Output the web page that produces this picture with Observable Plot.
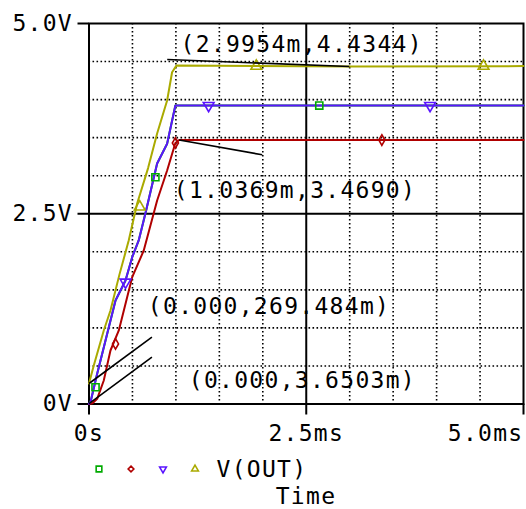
<!DOCTYPE html>
<html><head><meta charset="utf-8">
<script src="https://cdn.jsdelivr.net/npm/d3@7"></script>
<script src="https://cdn.jsdelivr.net/npm/@observablehq/plot@0.6"></script>
<style>
body{margin:0;background:#fff;width:526px;height:509px;overflow:hidden;position:relative;font-family:"DejaVu Sans Mono",monospace;}
#chart svg text{letter-spacing:1.3px}
#legend{position:absolute;left:0;top:455px;}
#xlabel{position:absolute;left:226px;width:160px;text-align:center;top:483px;font-size:23px;letter-spacing:1.3px;line-height:26px;}
</style></head><body>
<div id="chart"></div>
<svg id="legend" width="526" height="28"></svg>
<div id="xlabel">Time</div>
<script>
// ---- data (time in ms, voltage in V) ----
const seriesNames = ["green", "red", "blue", "olive"];
const seriesColors = ["#00aa00", "#b00000", "#5a14ff", "#aaaa00"];
const seriesSymbols = ["square", "diamond", "triangle", "triangle"];
const seriesRotate = [0, 0, 180, 0];
const seriesR = [4, 3.2, 4, 4];

const blueT = [0, 0.017, 0.094, 0.19, 0.305, 0.42, 0.497, 0.572, 0.649, 0.784, 0.899, 0.994, 5.0];
const blueV = [0.00365, 0.024, 0.397, 0.834, 1.36, 1.623, 1.929, 2.149, 2.503, 3.16, 3.42, 3.922, 3.922];
const greenT = blueT.slice();
const greenV = blueV.slice();
const redT = [0, 0.04, 0.094, 0.17, 0.247, 0.343, 0.439, 0.497, 0.63, 0.784, 0.899, 0.994, 1.0369, 5.0];
const redV = [0, 0.01, 0.068, 0.309, 0.703, 0.966, 1.403, 1.666, 2.017, 2.674, 3.068, 3.43, 3.469, 3.469];
const oliveT = [0, 0.055, 0.17, 0.247, 0.35, 0.457, 0.554, 0.68, 0.784, 0.899, 0.956, 1.006, 2.9954, 5.0];
const oliveV = [0.2695, 0.506, 0.966, 1.229, 1.70, 2.148, 2.635, 3.1, 3.554, 3.988, 4.36, 4.447, 4.4344, 4.44];

const markerT = [[0.075, 0.764, 2.65], [0.305, 0.994, 3.37], [0.42, 1.377, 3.925], [0.584, 1.925, 4.54]];
const markerV = [[0.22, 2.98, 3.922], [0.79, 3.43, 3.469], [1.6, 3.922, 3.922], [2.59, 4.44, 4.44]];

const yTicks = [0, 2.5, 5];
const yTickLabels = ["0V", "2.5V", "5.0V"];
const xTicks = [0, 2.5, 5];
const xTickLabels = ["0s", "2.5ms", "5.0ms"];
const gridVals = [0.5, 1, 1.5, 2, 3, 3.5, 4, 4.5];

const annText = ["(2.9954m,4.4344)", "(1.0369m,3.4690)", "(0.000,269.484m)", "(0.000,3.6503m)"];
const annTextX = [1.053, 0.976, 0.677, 1.148];
const annTextY = [4.721, 2.80, 1.284, 0.309];
const annPointX = [2.9954, 1.0369, 0, 0];
const annPointY = [4.4344, 3.469, 0.2695, 0.00365];
const annLeaderX = [0.900, 1.993, 0.724, 0.724];
const annLeaderY = [4.527, 3.275, 0.878, 0.615];

const legendLabel = "V(OUT)";

// ---- build tables ----
const allT = [greenT, redT, blueT, oliveT];
const allV = [greenV, redV, blueV, oliveV];
const lineData = [];
allT.forEach((ts, i) => ts.forEach((t, j) => lineData.push({s: i, t, v: allV[i][j]})));
const markData = [];
markerT.forEach((ts, i) => ts.forEach((t, j) => markData.push({s: i, t, v: markerV[i][j]})));
const ann = annText.map((text, i) => ({text, tx: annTextX[i], ty: annTextY[i], px: annPointX[i], py: annPointY[i], lx: annLeaderX[i], ly: annLeaderY[i]}));

const fmtY = d => yTickLabels[yTicks.indexOf(d)];
const fmtX = d => xTickLabels[xTicks.indexOf(d)];

const marks = [
  Plot.ruleX(gridVals, {stroke: "black", strokeWidth: 1.6, strokeDasharray: "1.6,2.4"}),
  Plot.ruleY(gridVals, {stroke: "black", strokeWidth: 1.6, strokeDasharray: "1.6,2.4"}),
  Plot.ruleX([2.5], {stroke: "black", strokeWidth: 2}),
  Plot.ruleY([2.5], {stroke: "black", strokeWidth: 2}),
  Plot.frame({stroke: "black", strokeWidth: 2}),
  Plot.axisY({ticks: yTicks, tickFormat: fmtY, tickSize: 11, tickPadding: 5, strokeWidth: 2, label: null}),
  Plot.axisX({ticks: xTicks.slice(0, 2), tickFormat: fmtX, tickSize: 11, tickPadding: 10, strokeWidth: 2, label: null}),
  Plot.axisX({ticks: xTicks.slice(2), tickFormat: fmtX, tickSize: 11, tickPadding: 10, strokeWidth: 2, textAnchor: "end", label: null}),
];
seriesNames.forEach((n, i) => {
  marks.push(Plot.line(lineData.filter(d => d.s === i), {x: "t", y: "v", stroke: seriesColors[i], strokeWidth: 2}));
});
seriesNames.forEach((n, i) => {
  marks.push(Plot.dot(markData.filter(d => d.s === i), {x: "t", y: "v", symbol: () => seriesSymbols[i], stroke: seriesColors[i], fill: "none", strokeWidth: 1.6, r: seriesR[i], rotate: seriesRotate[i]}));
});
marks.push(Plot.link(ann, {x1: "px", y1: "py", x2: "lx", y2: "ly", stroke: "black", strokeWidth: 1.6}));
marks.push(Plot.text(ann, {x: "tx", y: "ty", text: "text", textAnchor: "start", fill: "black"}));

const chart = Plot.plot({
  width: 526, height: 445,
  marginLeft: 88.5, marginRight: 3, marginTop: 23, marginBottom: 41.5,
  x: {domain: [0, 5]},
  y: {domain: [0, 5]},
  symbol: {type: "identity"},
  style: {fontFamily: "DejaVu Sans Mono", fontSize: "23px", color: "black", background: "white", overflow: "visible"},
  marks
});
document.getElementById("chart").appendChild(chart);

// ---- legend ----
const lg = d3.select("#legend");
const legX = [99, 131, 163, 195];
const symMap = {square: d3.symbolSquare, diamond: d3.symbolDiamond2, triangle: d3.symbolTriangle2};
seriesNames.forEach((n, i) => {
  const r = seriesR[i] * 0.8;
  lg.append("path")
    .attr("d", d3.symbol(symMap[seriesSymbols[i]], Math.PI * r * r)())
    .attr("transform", `translate(${legX[i]},14) rotate(${seriesRotate[i]})`)
    .attr("fill", "none").attr("stroke", seriesColors[i]).attr("stroke-width", 1.6);
});
lg.append("text").attr("x", 216.5).attr("y", 14).attr("dy", "0.35em")
  .attr("font-family", "DejaVu Sans Mono").attr("font-size", 23).attr("letter-spacing", "1.3px")
  .text(legendLabel);
</script>
</body></html>
